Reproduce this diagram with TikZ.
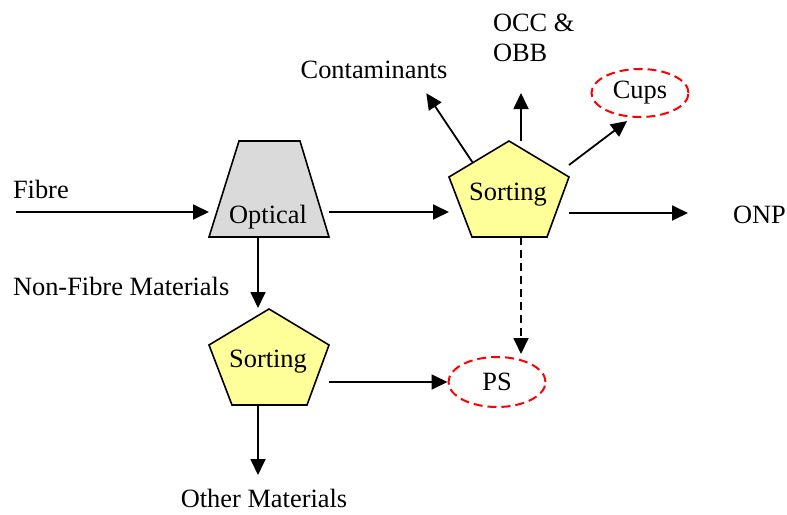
\documentclass[tikz,border=0pt]{standalone}
\usepackage{fontspec}
\setmainfont{Liberation Serif}
\usepackage{tikz}
\usetikzlibrary{positioning, arrows.meta, shapes.geometric, calc}
\definecolor{optgray}{RGB}{218, 218, 218}
\definecolor{sortyellow}{RGB}{255, 255, 153}
\definecolor{dashred}{RGB}{255, 0, 0}

\begin{document}
\begin{tikzpicture}[x=0.5pt, y=-0.5pt, font=\fontsize{13.2}{15}\selectfont,
    >={Triangle[length=8pt, width=7.5pt]},
    box/.style={minimum width=60pt, minimum height=48pt, inner sep=0pt, outer sep=0pt},
    shapeline/.style={draw, line width=0.8pt, line join=miter},
    txt/.style={inner sep=0pt, outer sep=0pt},
    bin/.style={ellipse, draw=dashred, line width=1pt, dash pattern=on 4.5pt off 2.5pt,
      minimum width=48.5pt, inner sep=0pt},
    arr/.style={->, line width=0.9pt}]
  \useasboundingbox (0,0) rectangle (787,514);
  \node[box] (opt) at (269,189) {};
  \node[box] (s1)  at (509,189) {};
  \node[box] (s2)  at (269,357) {};
  \draw[shapeline, fill=optgray] ($(opt.north west)+(30,0)$) -- ($(opt.north east)+(-29,0)$)
    -- (opt.south east) -- (opt.south west) -- cycle;
  \foreach \s in {s1, s2}
    \draw[shapeline, fill=sortyellow] (\s.north) -- ($(\s.north east)!0.375!(\s.south east)$)
      -- ($(\s.south)+(38,0)$) -- ($(\s.south)+(-37,0)$)
      -- ($(\s.north west)!0.375!(\s.south west)$) -- cycle;
  \node[txt, anchor=base] (optlbl) at (268,223) {Optical};
  \node[txt, anchor=base] (s1lbl)  at (508,200) {Sorting};
  \node[txt, anchor=base] (s2lbl)  at (268,367) {Sorting};
  \node[bin, minimum height=24pt] (cups) at (640,93)  {Cups};
  \node[bin, minimum height=25pt] (ps)   at (497,382) {PS};
  \node[txt, anchor=base west] (fibre)  at (13,198)  {Fibre};
  \node[txt, anchor=base west] (nonfib) at (13,295)  {Non-Fibre Materials};
  \node[txt, anchor=base]      (other)  at (264,507) {Other Materials};
  \node[txt, anchor=base west] (onp)    at (733,223) {ONP};
  \node[txt, anchor=base]      (cont)   at (374,78)  {Contaminants};
  \node[txt, anchor=north west, align=left] (occ) at (493,14) {OCC \&\\OBB};
  \coordinate (fibin) at (16,212);
  \draw[arr] (fibin) -- (fibin -| opt.west);
  \draw[arr] ($(opt.east)+(0,23)$) -- ($(s1.west)+(0,23)$);
  \draw[arr] ($(opt.south)+(-11,0)$) -- ($(s2.north)+(-11,-1)$);
  \draw[arr] (s2.east |- ps.west) -- (ps.west);
  \draw[arr] ($(s2.south)+(-11,0)$) -- ($(s2.south)+(-11,70)$);
  \draw[arr, dash pattern=on 4pt off 2.5pt] ($(s1.south)+(12,0)$) -- ($(ps.north)+(24,-2)$);
  \draw[arr] ($(s1.north)+(12,0)$) -- ($(s1.north)+(12,-48)$);
  \draw[arr] ($(s1.north west)+(24,22)$) -- ($(cont.south east)+(-21,15)$);
  \draw[arr] ($(s1.north east)+(0,24)$) -- ($(cups.240)+(1,4)$);
  \draw[arr] ($(s1.east)+(0,24)$) -- ($(s1.east)+(119,24)$);
\end{tikzpicture}
\end{document}
